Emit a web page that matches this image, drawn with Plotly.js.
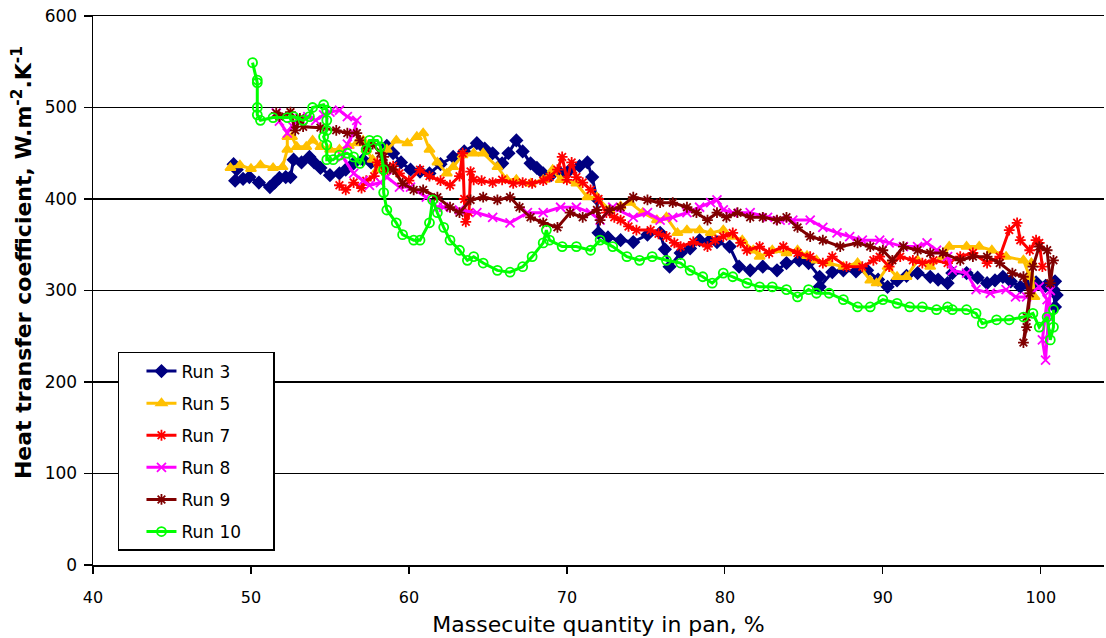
<!DOCTYPE html>
<html>
<head>
<meta charset="utf-8">
<script src="https://cdn.plot.ly/plotly-3.0.1.min.js"></script>
<style>html,body{margin:0;padding:0;background:#fff;}#chart{width:1106px;height:638px;}</style>
</head>
<body>
<div id="chart"></div>
<script>
// Run 3
const run3x = [48.9,49.1,49.0,49.5,49.9,50.5,51.2,51.5,51.8,52.2,52.5,52.7,53.2,53.7,54.0,54.4,55.0,55.6,56.0,56.5,57.1,57.6,58.2,58.6,59.0,59.5,60.1,60.7,61.3,62.0,62.8,63.5,64.3,64.8,65.3,65.9,66.3,66.8,67.2,67.7,68.1,68.5,69.0,69.6,70.2,70.8,71.3,71.6,71.9,72.0,72.6,73.4,74.2,75.1,75.9,76.2,76.5,77.2,77.8,78.4,79.0,79.5,80.3,80.9,81.6,82.4,83.3,83.9,84.7,85.3,86.0,86.0,86.8,87.5,88.3,89.0,89.7,90.3,90.9,91.5,92.2,93.0,93.5,94.1,94.4,95.3,96.0,96.6,97.1,97.6,98.1,98.7,99.2,99.7,100.3,100.8,100.9,101.0,100.9];
const run3y = [438,432,420,422,424,418,413,418,423,424,424,443,440,446,440,434,426,428,432,439,443,440,435,458,450,440,432,430,428,438,446,452,461,455,450,439,450,464,452,439,434,428,426,428,432,436,440,424,400,363,358,355,353,361,363,345,326,341,346,355,354,353,348,326,322,326,322,330,333,330,315,304,320,322,321,322,312,304,311,316,319,315,312,308,319,319,314,308,311,315,310,304,306,309,305,301,282,295,310];
// Run 5
const run5x = [48.7,49.3,50.0,50.6,51.4,52.0,52.3,52.3,52.6,52.9,53.5,53.9,54.4,55.0,55.6,56.2,56.7,57.1,57.3,57.7,58.0,58.6,59.2,59.9,60.5,60.9,61.3,61.8,62.4,62.8,63.4,64.1,64.7,65.6,66.2,66.8,67.7,68.5,69.1,69.6,70.6,71.3,71.9,72.7,73.4,74.0,74.8,75.7,76.3,77.0,77.6,78.4,79.1,79.9,80.5,81.1,81.8,82.2,83.0,83.9,84.6,85.2,85.8,86.6,87.5,88.4,89.2,89.6,90.3,90.9,91.5,92.2,93.0,93.8,94.2,95.3,96.1,96.9,97.8,98.9,99.3,99.6,99.4];
const run5y = [434,437,433,437,434,435,454,468,468,457,457,464,457,454,454,458,461,464,454,443,432,454,464,461,468,472,454,440,428,435,448,450,450,435,421,421,417,421,432,421,417,402,402,388,392,396,385,377,380,363,366,366,363,366,359,355,344,337,344,341,344,338,333,330,326,330,311,308,326,315,315,333,326,337,348,348,348,344,337,333,315,293,330];
// Run 7
const run7x = [55.6,56.0,56.5,57.0,57.3,57.8,58.0,58.5,59.0,59.4,60.0,60.7,61.3,62.0,62.6,63.2,63.4,63.5,63.6,63.8,63.9,64.1,64.6,65.3,65.9,66.6,67.2,67.8,68.5,68.9,69.4,69.7,70.0,70.3,70.6,71.0,71.5,72.0,72.5,73.0,73.4,73.9,74.4,75.3,75.8,76.3,76.8,77.2,78.0,78.9,79.4,79.9,80.5,81.0,81.4,82.2,82.8,83.7,84.6,85.4,86.2,86.8,87.7,88.7,89.4,89.8,90.4,91.1,91.9,92.5,93.2,94.1,94.9,95.7,96.6,97.4,98.0,98.5,98.7,99.3,99.7,99.9,100.1];
const run7y = [415,410,418,412,420,425,440,430,436,428,420,432,425,420,415,425,450,400,375,385,430,421,420,418,421,417,418,417,420,424,432,446,421,440,424,418,410,400,385,380,377,370,366,366,362,359,352,348,353,348,355,359,363,352,344,348,341,348,341,337,330,337,326,326,333,337,326,337,333,330,333,330,337,341,330,337,366,374,355,344,355,352,326];
// Run 8
const run8x = [51.6,51.8,52.3,52.6,53.1,53.6,54.1,54.6,55.0,55.6,56.1,56.7,56.5,56.1,55.8,56.5,57.1,57.5,58.2,58.6,59.4,60.1,61.1,61.8,62.2,63.2,64.3,65.3,66.4,67.5,68.5,69.6,70.6,71.5,72.1,72.9,74.2,75.1,75.9,76.7,77.6,78.4,79.1,79.5,79.9,80.5,81.6,82.7,83.5,84.3,85.4,86.2,87.1,87.9,88.7,89.8,90.4,91.3,92.2,92.8,93.4,94.1,94.4,95.3,95.9,96.8,97.8,98.4,99.1,99.9,100.4,100.1,100.3,100.5,100.6];
const run8y = [494,485,472,480,488,490,486,492,495,497,490,486,472,460,446,428,420,415,418,424,413,413,402,391,391,388,385,380,374,385,385,391,391,385,377,391,380,385,377,380,385,391,396,399,388,385,385,380,377,377,377,369,363,359,355,355,352,348,348,352,344,337,322,319,301,297,301,293,293,304,290,246,224,271,300];
// Run 9
const run9x = [51.6,51.8,52.5,52.8,53.1,53.3,54.4,55.4,56.1,56.7,56.9,57.3,57.7,58.2,58.4,58.6,59.0,59.6,60.3,60.9,61.8,62.6,63.2,63.9,64.7,65.6,66.4,67.0,67.7,68.5,69.4,70.2,71.0,71.9,72.1,72.7,73.4,74.2,75.1,75.9,76.7,77.6,78.2,78.9,79.5,80.1,80.8,81.6,82.4,83.3,83.9,84.6,85.4,86.2,87.3,88.4,89.2,90.0,90.6,91.3,92.2,93.0,93.8,94.9,95.7,96.6,97.4,98.2,98.9,99.3,99.1,98.9,99.1,99.5,99.9,100.4,100.6,100.8];
const run9y = [494,490,495,475,488,479,478,475,472,472,464,455,460,450,446,435,432,417,410,410,402,391,385,399,402,399,402,391,380,374,369,385,380,388,377,388,391,402,399,396,396,391,385,377,385,380,385,380,380,377,380,369,359,355,348,352,348,344,333,348,344,341,341,333,337,337,330,319,315,297,271,243,260,326,348,344,308,333];
// Run 10
const run10x = [50.1,50.4,50.4,50.4,50.4,50.6,51.4,52.3,52.7,53.3,53.7,53.9,54.6,54.8,54.8,54.8,54.6,54.8,54.8,55.2,55.6,56.1,56.5,56.9,57.3,57.5,58.0,58.2,58.4,58.4,58.6,59.2,59.6,60.3,60.7,61.3,61.5,61.8,62.2,62.6,63.2,63.7,64.1,64.7,65.6,66.4,67.2,67.8,68.5,68.7,68.9,69.7,70.6,71.5,72.1,72.9,73.8,74.6,75.4,76.3,77.2,77.8,78.6,79.2,79.9,80.5,81.4,82.2,83.0,83.9,84.6,85.3,85.8,86.6,87.5,88.4,89.2,90.0,90.9,91.7,92.5,93.4,94.1,94.4,95.3,95.9,96.3,97.2,98.0,98.9,99.5,99.9,100.4,100.6,100.8,100.8];
const run10y = [549,530,527,500,492,486,489,489,490,486,490,500,503,497,486,475,468,459,443,443,448,450,446,439,454,464,464,457,432,407,388,374,361,355,355,374,399,385,369,355,344,333,337,330,322,320,326,337,352,366,355,348,348,344,355,348,337,333,337,333,330,322,315,308,319,315,308,304,304,301,293,301,297,297,290,282,282,290,286,282,282,279,282,279,279,275,264,268,268,271,275,260,271,246,260,279];

const seriesNames = ["Run 3","Run 5","Run 7","Run 8","Run 9","Run 10"];
const xTickVals = [40,50,60,70,80,90,100];
const yTickVals = [0,100,200,300,400,500,600];

const xs = [run3x, run5x, run7x, run8x, run9x, run10x];
const ys = [run3y, run5y, run7y, run8y, run9y, run10y];
const colors = ["#000080","#FFC000","#FF0000","#FF00FF","#800000","#00FF00"];
const symbols = ["diamond","triangle-up","asterisk-open","x-thin-open","asterisk-open","circle-open"];
const NB = "\u00A0";

const traces = seriesNames.map((n, i) => ({
  type: "scatter",
  mode: "lines+markers",
  name: n + NB.repeat(n.length === 6 ? 5 : 7),
  x: xs[i], y: ys[i],
  line: {color: colors[i], width: 3},
  marker: {color: colors[i], symbol: symbols[i], size: 9, line: {color: colors[i], width: 1.8}},
  legendgroup: "g" + i
}));

const layout = {
  width: 1106, height: 638,
  margin: {l: 93, r: 2, t: 16, b: 73},
  paper_bgcolor: "#fff", plot_bgcolor: "#fff",
  font: {family: "DejaVu Sans, Arial, sans-serif", color: "#000"},
  showlegend: true,
  legend: {
    x: 0.0247, y: 0.388, xanchor: "left", yanchor: "top",
    bgcolor: "#fff", bordercolor: "#000", borderwidth: 1.5,
    font: {family: "DejaVu Sans, Arial, sans-serif", size: 17, color: "#000"},
    tracegroupgap: 7, itemwidth: 30, indentation: 22
  },
  xaxis: {
    range: [40, 104], tickvals: xTickVals, ticktext: xTickVals.map(String),
    showgrid: false, zeroline: false,
    showline: true, mirror: true, linecolor: "#000", linewidth: 1.5,
    ticks: "outside", ticklen: 7, tickcolor: "#000", tickwidth: 1.2,
    tickfont: {family: "DejaVu Sans, Arial, sans-serif", size: 16, color: "#000"},
    ticklabelstandoff: 10,
    title: {text: "Massecuite quantity in pan, %", font: {family: "DejaVu Sans, Arial, sans-serif", size: 22, color: "#000"}, standoff: 11}
  },
  yaxis: {
    range: [0, 600], tickvals: yTickVals, ticktext: yTickVals.map(String),
    showgrid: true, gridcolor: "#000", gridwidth: 1.3,
    zeroline: false,
    showline: true, linecolor: "#000", linewidth: 1.5,
    ticks: "outside", ticklen: 8, tickcolor: "#000", tickwidth: 1.2,
    tickfont: {family: "DejaVu Sans, Arial, sans-serif", size: 17, color: "#000"},
    ticklabelstandoff: 3
  },
  annotations: [{
    text: "Heat transfer coefficient, W.m<sup>-2</sup>.K<sup>-1</sup>",
    xref: "paper", yref: "paper", x: -0.0702, y: 0.55,
    xanchor: "center", yanchor: "middle", textangle: -90, showarrow: false,
    font: {family: "DejaVu Sans, Arial, sans-serif", size: 22, color: "#000", weight: "bold"}
  }]
};

Plotly.newPlot("chart", traces, layout, {displayModeBar: false, staticPlot: true});
</script>
</body>
</html>
